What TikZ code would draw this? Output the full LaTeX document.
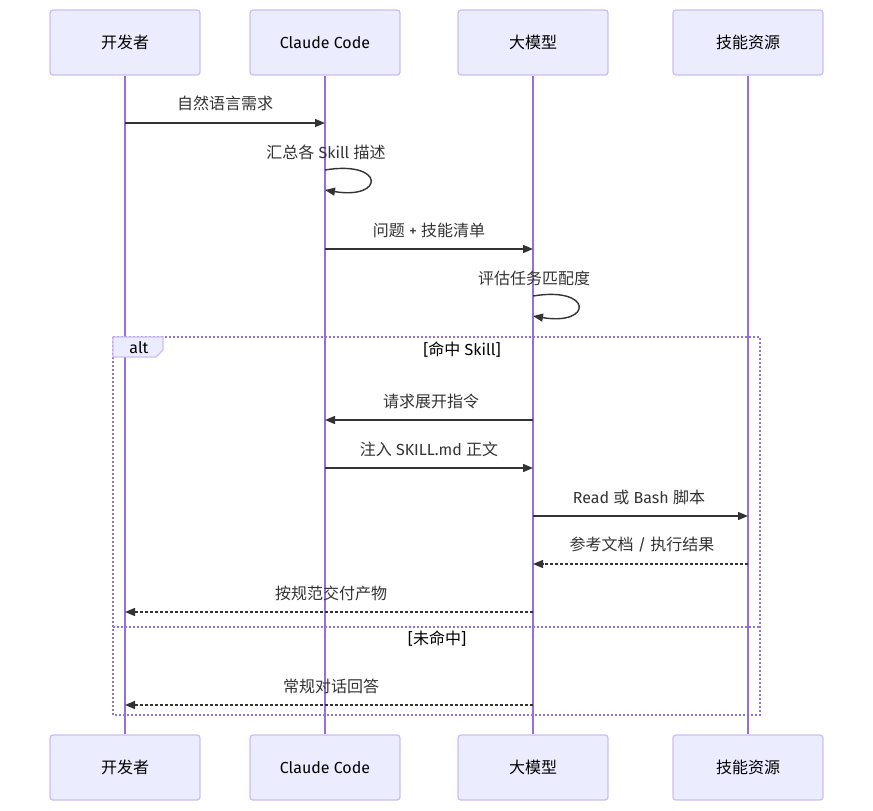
\documentclass[tikz,border=0pt]{standalone}
\usepackage{fontspec}
\setmainfont{Fira Sans}
\newfontfamily\cjk{Noto Sans CJK SC}
\usetikzlibrary{arrows.meta}
\definecolor{actfill}{HTML}{ECECFF}
\definecolor{actborder}{HTML}{CDBEF2}
\definecolor{life}{HTML}{9370DB}
\definecolor{txt}{HTML}{333333}
\tikzset{
  actor/.style={draw=actborder, fill=actfill, line width=1.3pt, rounded corners=3pt,
    minimum width=150pt, minimum height=65pt, inner sep=0pt, text=black,
    font=\fontsize{16}{19}\selectfont},
  lifeline/.style={draw=life, line width=1.6pt},
  msg/.style={draw=txt, line width=1.4pt, -{Triangle[length=10pt,width=8pt]}},
  reply/.style={msg, dash pattern=on 3pt off 2pt},
  lbl/.style={text=txt, font=\fontsize{16}{19}\selectfont, inner sep=0pt},
  frame/.style={draw=life, line width=1.6pt, dash pattern=on 2pt off 2pt},
}
\begin{document}
\begin{tikzpicture}[x=1pt,y=-1pt]
\useasboundingbox (0,0) rectangle (873,811);
% actors
\node[actor] (a1) at (125,42.5) {\cjk 开发者};
\node[actor] (a2) at (325,42.5) {Claude Code};
\node[actor] (a3) at (533,42.5) {\cjk 大模型};
\node[actor] (a4) at (748,42.5) {\cjk 技能资源};
\node[actor] (b1) at (125,767.5) {\cjk 开发者};
\node[actor] (b2) at (325,767.5) {Claude Code};
\node[actor] (b3) at (533,767.5) {\cjk 大模型};
\node[actor] (b4) at (748,767.5) {\cjk 技能资源};
% lifelines
\draw[lifeline] (a1.south) -- (b1.north);
\draw[lifeline] (a2.south) -- (b2.north);
\draw[lifeline] (a3.south) -- (b3.north);
\draw[lifeline] (a4.south) -- (b4.north);
% alt frame
\coordinate (fa) at (113,337);
\coordinate (fb) at (760,715);
\draw[frame] (fa) rectangle (fb);
\coordinate (sepl) at (113,627);
\coordinate (sepr) at (760,627);
\draw[frame] (sepl) -- (sepr);
\draw[draw=actborder, fill=actfill, line width=1.3pt] (113,337) -- (163,337) -- (163,350) -- (156,357) -- (113,357) -- cycle;
\node[lbl, text=black] (alt) at (139,348) {alt};
\node[lbl, text=black] (c1) at (462,350) {[{\cjk 命中} Skill]};
\node[lbl, text=black] (c2) at (437,639) {[{\cjk 未命中}]};
% messages
\coordinate (m1s) at (125,123); \coordinate (m1e) at (325,123);
\node[lbl] (l1) at (225,103) {\cjk 自然语言需求};
\draw[msg] (m1s) -- (m1e);
\coordinate (m2s) at (325,170); \coordinate (m2e) at (325,190);
\node[lbl] (l2) at (326,152) {{\cjk 汇总各} Skill {\cjk 描述}};
\draw[msg] (m2s) .. controls (385,160) and (385,200) .. (m2e);
\coordinate (m3s) at (325,249); \coordinate (m3e) at (533,249);
\node[lbl] (l3) at (429,230) {{\cjk 问题} + {\cjk 技能清单}};
\draw[msg] (m3s) -- (m3e);
\coordinate (m4s) at (533,296); \coordinate (m4e) at (533,316);
\node[lbl] (l4) at (534,278) {\cjk 评估任务匹配度};
\draw[msg] (m4s) .. controls (593,286) and (593,326) .. (m4e);
\coordinate (m5s) at (533,420); \coordinate (m5e) at (325,420);
\node[lbl] (l5) at (431,401) {\cjk 请求展开指令};
\draw[msg] (m5s) -- (m5e);
\coordinate (m6s) at (325,468); \coordinate (m6e) at (533,468);
\node[lbl] (l6) at (429,449) {{\cjk 注入} SKILL.md {\cjk 正文}};
\draw[msg] (m6s) -- (m6e);
\coordinate (m7s) at (533,516); \coordinate (m7e) at (748,516);
\node[lbl] (l7) at (639,497) {Read {\cjk 或} Bash {\cjk 脚本}};
\draw[msg] (m7s) -- (m7e);
\coordinate (m8s) at (748,564); \coordinate (m8e) at (533,564);
\node[lbl] (l8) at (642,545) {{\cjk 参考文档} / {\cjk 执行结果}};
\draw[reply] (m8s) -- (m8e);
\coordinate (m9s) at (533,612); \coordinate (m9e) at (125,612);
\node[lbl] (l9) at (331,593) {\cjk 按规范交付产物};
\draw[reply] (m9s) -- (m9e);
\coordinate (m10s) at (533,705); \coordinate (m10e) at (125,705);
\node[lbl] (l10) at (331,686) {\cjk 常规对话回答};
\draw[reply] (m10s) -- (m10e);
\end{tikzpicture}
\end{document}
